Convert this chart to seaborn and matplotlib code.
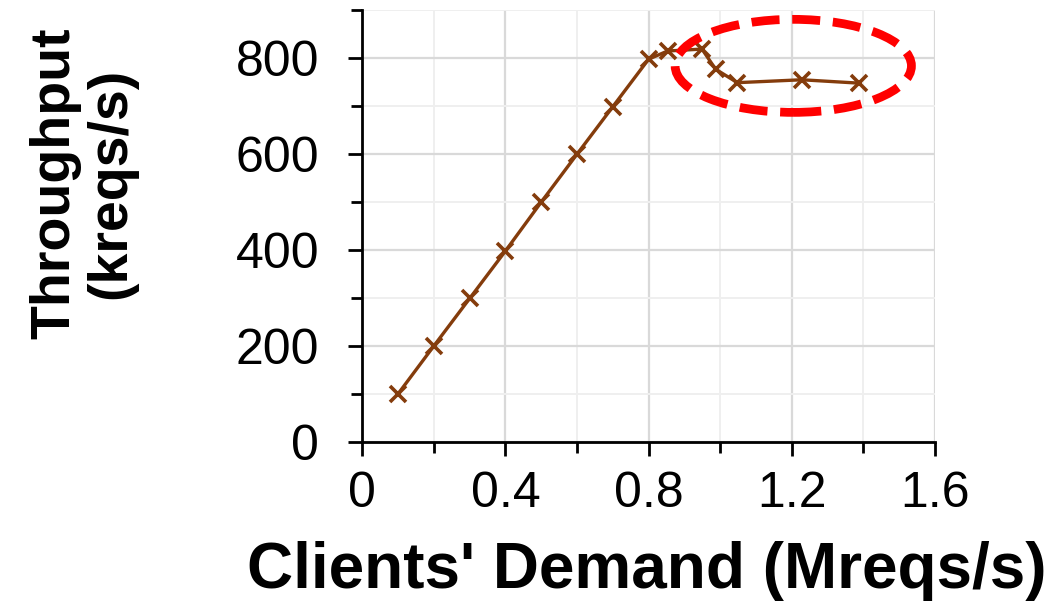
import matplotlib
matplotlib.use("Agg")
import matplotlib.pyplot as plt
import seaborn as sns
import pandas as pd
from matplotlib.patches import Ellipse
from matplotlib.ticker import MultipleLocator

# client demand (Mreqs/s) vs measured throughput (kreqs/s)
demand = [0.1, 0.2, 0.3, 0.4, 0.5, 0.6, 0.7, 0.8, 0.853, 0.949, 0.987, 1.048, 1.228, 1.387]
throughput = [100, 200, 299, 398, 500, 600, 699, 798, 815, 819, 777, 749, 755, 748]

x_ticks = [0, 0.4, 0.8, 1.2, 1.6]
x_tick_labels = ['0', '0.4', '0.8', '1.2', '1.6']
y_ticks = [0, 200, 400, 600, 800]

sns.set_style("white")
plt.rcParams['font.family'] = ['Liberation Sans', 'DejaVu Sans']
plt.rcParams['text.color'] = 'black'
plt.rcParams['axes.labelcolor'] = 'black'
plt.rcParams['xtick.color'] = 'black'
plt.rcParams['ytick.color'] = 'black'

df = pd.DataFrame({'demand': demand, 'throughput': throughput})

fig = plt.figure(figsize=(10.53, 6.02), dpi=100)
ax = fig.add_axes([0.344, 0.266, 0.544, 0.717])

sns.lineplot(data=df, x='demand', y='throughput', ax=ax, color='#843C0C',
             marker='x', markersize=11, markeredgewidth=2.6,
             markeredgecolor='#843C0C', linewidth=2.4, sort=False, zorder=3)

ax.set_xlim(0, 1.6)
ax.set_ylim(0, 900)
ax.set_xticks(x_ticks)
ax.set_xticklabels(x_tick_labels)
ax.set_yticks(y_ticks)
ax.xaxis.set_minor_locator(MultipleLocator(0.2))
ax.yaxis.set_minor_locator(MultipleLocator(100))

ax.grid(which='major', color='#d9d9d9', linewidth=1.6, zorder=0)
ax.grid(which='minor', color='#efefef', linewidth=1.4, zorder=0)
ax.set_axisbelow(True)

for s in ['top', 'right']:
    ax.spines[s].set_visible(False)
for s in ['left', 'bottom']:
    ax.spines[s].set_color('black')
    ax.spines[s].set_linewidth(2)

ax.tick_params(which='major', direction='out', length=10, width=2, color='black',
               bottom=True, left=True)
ax.tick_params(which='minor', direction='out', length=8, width=2, color='black',
               bottom=True, left=True)
ax.tick_params(axis='x', which='major', labelsize=36, pad=11)
ax.tick_params(axis='y', which='major', labelsize=36, pad=21)

ax.set_xlabel("Clients' Demand (Mreqs/s)", fontsize=46, fontweight='bold')
ax.xaxis.set_label_coords(0.496, -0.30)
ax.xaxis.label.set_va('center')

ax.set_ylabel("Throughput\n(kreqs/s)", fontsize=40, fontweight='bold',
              linespacing=1.08)
ax.yaxis.set_label_coords(-0.487, 0.6)
ax.yaxis.label.set_va('center')

# saturation region highlight
ell = Ellipse((1.204, 784), width=0.66, height=194, fill=False,
              edgecolor='red', linewidth=6.3, linestyle=(0, (3.2, 1.45)), zorder=4)
ax.add_patch(ell)

fig.savefig('out.png', dpi=100)
